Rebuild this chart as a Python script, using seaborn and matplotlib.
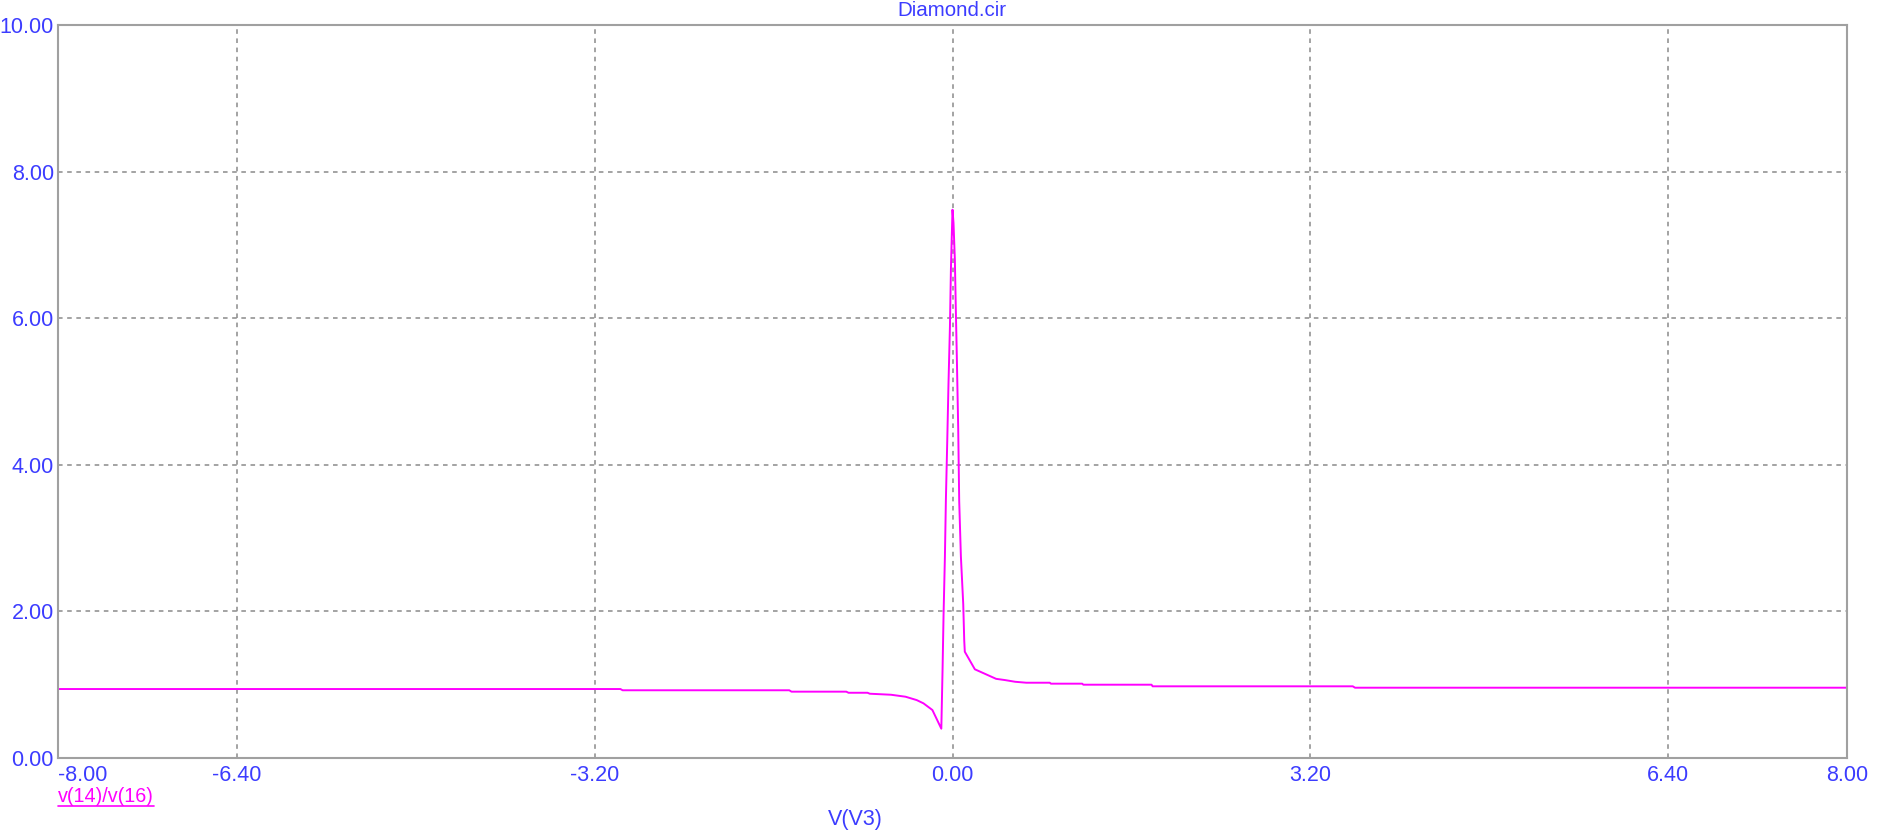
import numpy as np
import matplotlib
matplotlib.use("Agg")
import matplotlib.pyplot as plt
import seaborn as sns
from matplotlib.lines import Line2D

# sweep of V(V3) and the ratio v(14)/v(16)
v3 = [-8.0, -2.97, -2.95, -1.46, -1.44, -0.95, -0.93, -0.76, -0.74, -0.55,
      -0.42, -0.32, -0.26, -0.18, -0.100, -0.089, -0.080, -0.068, -0.059,
      -0.047, -0.036, -0.023, -0.014, 0.0, 0.009, 0.021, 0.030, 0.039, 0.051,
      0.060, 0.075, 0.096, 0.105, 0.11, 0.20, 0.39, 0.47, 0.56, 0.66, 0.87,
      0.88, 1.16, 1.17, 1.78, 1.79, 3.58, 3.60, 8.0]
ratio = [0.941, 0.941, 0.924, 0.924, 0.905, 0.905, 0.89, 0.89, 0.877, 0.863,
         0.836, 0.79, 0.746, 0.655, 0.40, 1.20, 1.95, 2.74, 3.53,
         4.32, 5.10, 5.88, 6.68, 7.48, 7.30, 6.80, 6.10, 5.45, 4.50,
         3.50, 2.75, 2.10, 1.60, 1.45, 1.21, 1.08, 1.063, 1.04, 1.027, 1.027,
         1.014, 1.014, 1.0, 1.0, 0.978, 0.978, 0.959, 0.959]

xticks = [-8.0, -6.4, -3.2, 0.0, 3.2, 6.4, 8.0]
xgrid = [-6.4, -3.2, 0.0, 3.2, 6.4]
yticks = [0, 2, 4, 6, 8, 10]

txt_blue = "#3c3cff"
line_col = "#ff00ff"

sns.set_style("white")
plt.rcParams["font.family"] = ["Liberation Sans", "DejaVu Sans"]

fig = plt.figure(figsize=(18.87, 8.35), dpi=100)
ax = fig.add_axes([58 / 1887, 77 / 835, (1847 - 58) / 1887, (758 - 25) / 835])

sns.lineplot(x=v3, y=ratio, sort=False, estimator=None, color=line_col,
             linewidth=1.4, ax=ax)

ax.set_xlim(-8, 8)
ax.set_ylim(0, 10)

for g in xgrid:
    ax.axvline(g, color="#8a8a8a", linestyle=(0, (3, 3)), linewidth=1.1, zorder=0)
for g in yticks[1:-1]:
    ax.axhline(g, color="#8a8a8a", linestyle=(0, (3, 3)), linewidth=1.1, zorder=0)

ax.set_xticks(xticks)
ax.set_xticklabels([f"{t:.2f}" for t in xticks])
ax.set_yticks(yticks)
ax.set_yticklabels([f"{t:.2f}" for t in yticks])
ax.tick_params(length=0, labelsize=15.5, labelcolor=txt_blue)
ax.tick_params(axis="x", pad=5)
ax.tick_params(axis="y", pad=3)
ax.get_xticklabels()[0].set_horizontalalignment("left")

for s in ax.spines.values():
    s.set_color("#a0a0a0")
    s.set_linewidth(1.5)

fig.text(952 / 1887, 1 - 11 / 835, "Diamond.cir", ha="center", va="center",
         color=txt_blue, fontsize=14.8)
fig.text(855 / 1887, 1 - 820 / 835, "V(V3)", ha="center", va="center",
         color=txt_blue, fontsize=15.5)
leg = fig.text(58 / 1887, 1 - 797 / 835, "v(14)/v(16)", ha="left", va="center",
               color=line_col, fontsize=14.2)

# underline the trace name like the simulator does
fig.canvas.draw()
bb = leg.get_window_extent().transformed(fig.transFigure.inverted())
fig.add_artist(Line2D([bb.x0, bb.x1], [bb.y0 + 0.001, bb.y0 + 0.001],
                      transform=fig.transFigure, color=line_col, linewidth=1.2))

fig.savefig("out.png", dpi=100)
